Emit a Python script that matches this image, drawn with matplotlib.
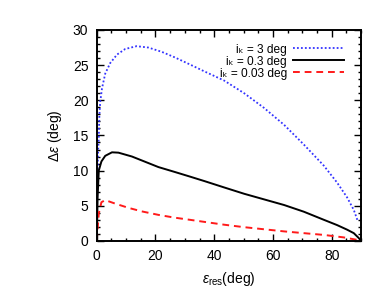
import matplotlib
matplotlib.use("Agg")
import matplotlib.pyplot as plt
from matplotlib.ticker import MultipleLocator

plt.rcParams['font.family'] = ['Liberation Sans', 'DejaVu Sans']
plt.rcParams['mathtext.fontset'] = 'custom'
plt.rcParams['mathtext.rm'] = 'Liberation Sans'
plt.rcParams['mathtext.it'] = 'Liberation Sans:italic'

# i_k = 3 deg (blue dotted)
x_blue = [0, 0.1, 0.3, 0.5, 0.7, 0.9, 1.2, 1.8, 2.9, 4.6, 6.9, 9.7, 13.6, 17.6, 22.1,
          26.6, 31.7, 36.7, 43.4, 50.2, 57.0, 63.8, 70.5, 77.3, 81.8, 85.2, 87.5, 88.7]
y_blue = [0, 5, 10, 13, 14.6, 17.9, 19.8, 21.7, 23.8, 25.3, 26.5, 27.3, 27.7, 27.5, 26.9,
          26.1, 25.1, 24.1, 22.8, 21.0, 18.9, 16.5, 13.7, 10.7, 8.3, 6.2, 4.4, 3.0]

# i_k = 0.3 deg (black solid)
x_black = [0, 0.1, 0.3, 0.7, 1.6, 2.9, 5.2, 7.4, 12.0, 16.5, 21.0, 26.6, 31.7, 36.7,
           43.4, 50.2, 57.0, 63.8, 70.5, 77.3, 81.8, 85.2, 87.5, 89.2, 90]
y_black = [0, 1.5, 6.2, 10.0, 11.3, 12.1, 12.6, 12.55, 12.0, 11.25, 10.5, 9.8, 9.15, 8.5,
           7.6, 6.7, 5.9, 5.1, 4.15, 3.0, 2.25, 1.6, 1.1, 0.4, 0]

# i_k = 0.03 deg (red dashed)
x_red = [0, 0.7, 1.6, 2.9, 6.3, 10.8, 15.3, 21.0, 26.6, 31.7, 36.7, 43.4, 50.2, 57.0,
         63.8, 70.5, 77.3, 84.0, 88.6, 90]
y_red = [0, 3.9, 5.5, 5.8, 5.3, 4.7, 4.2, 3.7, 3.3, 3.0, 2.7, 2.3, 1.95, 1.65,
         1.35, 1.1, 0.85, 0.5, 0.15, 0.05]

labels = ["i\u2096 = 3 deg", "i\u2096 = 0.3 deg", "i\u2096 = 0.03 deg"]

fig = plt.figure(figsize=(3.9, 3.03), dpi=100)
ax = fig.add_axes([0.248, 0.205, 0.678, 0.696])

ax.plot(x_blue, y_blue, color='#3333ff', linestyle=(0, (1, 1.2)), lw=1.3, label=labels[0])
ax.plot(x_black, y_black, color='black', linestyle='-', lw=1.4, label=labels[1])
ax.plot(x_red, y_red, color='#ff1a1a', linestyle=(0, (3.5, 2.5)), lw=1.4, label=labels[2])

ax.set_xlim(0, 90)
ax.set_ylim(0, 30)
ax.xaxis.set_major_locator(MultipleLocator(20))
ax.xaxis.set_minor_locator(MultipleLocator(5))
ax.yaxis.set_major_locator(MultipleLocator(5))
ax.yaxis.set_minor_locator(MultipleLocator(1))
ax.tick_params(which='both', direction='in', top=True, right=True, width=1.0, labelsize=10)
ax.tick_params(which='major', length=5, pad=6)
ax.tick_params(which='minor', length=2.5)
for s in ax.spines.values():
    s.set_linewidth(1.4)

ax.set_xlabel("$\\varepsilon_{\\rm res}$(deg)", fontsize=10, labelpad=5)
ax.set_ylabel("$\\Delta\\varepsilon$ (deg)", fontsize=10, labelpad=6)

ax.legend(loc='upper right', frameon=False, markerfirst=False, fontsize=8.6,
          handlelength=4.2, handletextpad=0.55, labelspacing=0.0,
          borderaxespad=0.3, bbox_to_anchor=(0.965, 0.975))

fig.savefig("out.png", dpi=100)
